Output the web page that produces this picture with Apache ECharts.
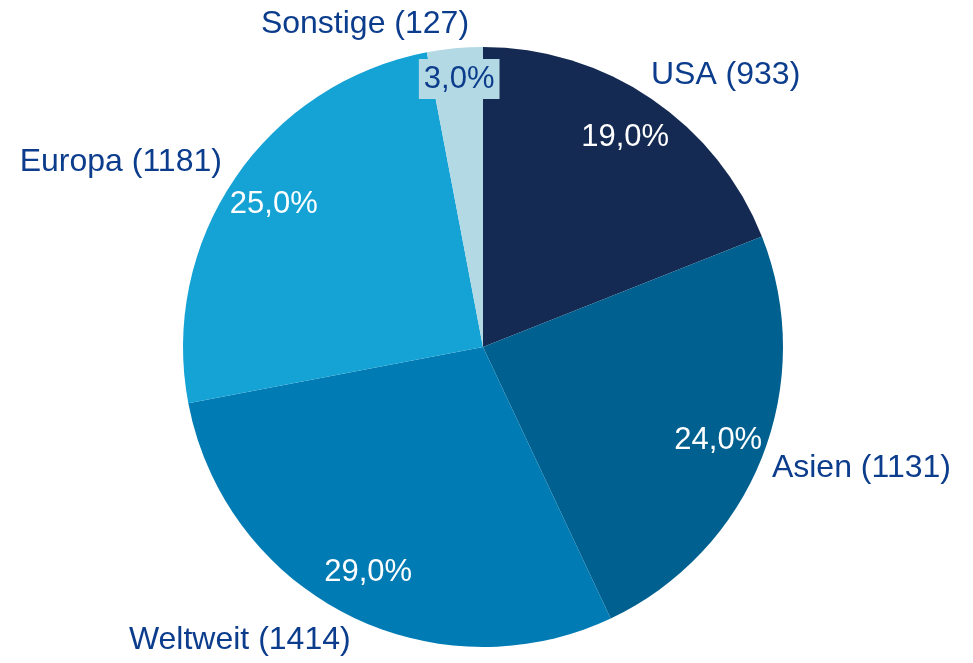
<!DOCTYPE html>
<html>
<head>
<meta charset="utf-8">
<script src="https://cdn.jsdelivr.net/npm/echarts@6/dist/echarts.min.js"></script>
<style>
  html, body { margin: 0; padding: 0; background: #fff; }
  #chart { width: 973px; height: 663px; }
</style>
</head>
<body>
<div id="chart"></div>
<script>
// regions, clockwise from 12 o'clock
const regionen = ['USA', 'Asien', 'Weltweit', 'Europa', 'Sonstige'];
const anzahl = [933, 1131, 1414, 1181, 127];
const anteil = [19.0, 24.0, 29.0, 25.0, 3.0];

const farben = ['#152a52', '#00608f', '#007bb4', '#15a2d4', '#b3d9e4'];
const textBlau = '#0c3c8c';
const schrift = 'Liberation Sans, Arial, sans-serif';

// small nudges for label placement [dx, dy]
const versatzAussen = [[0, 0], [0, 0], [0, 0], [-6, 0], [0, 5]];
const versatzInnen = [[0, 0], [0, 0], [0, 0], [0, 0], [0, -16]];

const fmtProzent = (v) => v.toFixed(1).replace('.', ',') + '%';

const daten = regionen.map((r, i) => ({
  name: r + ' (' + anzahl[i] + ')',
  value: anteil[i],
  itemStyle: { color: farben[i] }
}));

const chart = echarts.init(document.getElementById('chart'));
chart.setOption({
  animation: false,
  series: [
    {
      // slices + outer name labels
      type: 'pie',
      center: [483, 347],
      radius: [0, 300],
      startAngle: 90,
      clockwise: true,
      avoidLabelOverlap: false,
      itemStyle: { borderWidth: 0 },
      label: {
        show: true,
        position: 'outside',
        formatter: '{b}',
        color: textBlau,
        fontFamily: schrift,
        fontSize: 32,
        distanceToLabelLine: -17
      },
      labelLine: { show: false, length: 29, length2: 0 },
      labelLayout: (p) => ({ dx: versatzAussen[p.dataIndex][0], dy: versatzAussen[p.dataIndex][1] }),
      emphasis: { disabled: true },
      data: daten
    },
    {
      // invisible ring only used to place the percentage labels
      type: 'pie',
      center: [483, 347],
      radius: [200, 300],
      startAngle: 90,
      clockwise: true,
      silent: true,
      itemStyle: { color: 'transparent' },
      label: {
        show: true,
        position: 'inside',
        formatter: (p) => fmtProzent(p.value),
        color: '#ffffff',
        fontFamily: schrift,
        fontSize: 31
      },
      labelLine: { show: false },
      labelLayout: (p) => ({ dx: versatzInnen[p.dataIndex][0], dy: versatzInnen[p.dataIndex][1] }),
      emphasis: { disabled: true },
      data: regionen.map((r, i) => {
        const d = { name: r, value: anteil[i] };
        if (i === regionen.length - 1) {
          d.label = { color: textBlau, backgroundColor: farben[i], padding: [5, 5, 4, 5] };
        }
        return d;
      })
    }
  ]
});
</script>
</body>
</html>
